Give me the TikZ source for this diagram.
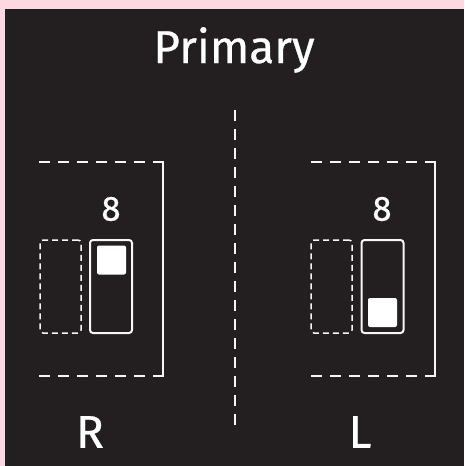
\documentclass[tikz,border=0pt]{standalone}
\usepackage{fontspec}
\setmainfont{Fira Sans}
\newfontfamily\labelfont[FakeBold=0.6]{Fira Sans}
\usetikzlibrary{positioning}
\definecolor{pinkbg}{HTML}{FCD9E2}
\definecolor{panel}{HTML}{231F20}
\definecolor{lite}{HTML}{F6F6F6}

\begin{document}
\begin{tikzpicture}[x=1pt,y=-1pt,
	slot/.style = {draw=lite, line width=1.5pt, dash pattern=on 6pt off 4pt, rounded corners=3pt, minimum width=41pt, minimum height=93pt, inner sep=0pt},
	switchbox/.style = {draw=lite, line width=2pt, rounded corners=3pt, minimum width=42pt, minimum height=93pt, inner sep=0pt},
	knob/.style = {fill=white, rounded corners=2pt, minimum size=29pt, inner sep=0pt},
	guide/.style = {lite, line width=1.5pt, dash pattern=on 11pt off 8pt},
	bracket/.style = {lite, line width=1.6pt},
	big/.style = {text=white, font=\labelfont\fontsize{46}{50}\selectfont},
	digit/.style = {text=white, font=\labelfont\fontsize{35}{40}\selectfont}]
	\fill [pinkbg] (0,0) rectangle (464,466);
	\fill [panel] (5,9) rectangle (464,466);
	\useasboundingbox (0,0) rectangle (464,466);

	\node [big] (title) at (234,50) {Primary};
	\draw [guide] (235,110) -- (235,428);

	% right side
	\draw [guide] (39,162) -- (156,162);
	\draw [guide] (39,376) -- (156,376);
	\draw [bracket] (155,162) -- (163,162) -- (163,376) -- (155,376);
	\node [digit] (numR) at (111,209) {8};
	\node [slot] (slotR) at (60.5,286.5) {};
	\node [switchbox] (swR) at (111,286.5) {};
	\node [knob] (knobR) at (111.5,260) {};
	\node [big] (labR) at (90,432) {R};

	% left side
	\draw [guide] (311,162) -- (428,162);
	\draw [guide] (311,376) -- (428,376);
	\draw [bracket] (427,162) -- (435,162) -- (435,376) -- (427,376);
	\node [digit] (numL) at (382,209) {8};
	\node [slot] (slotL) at (331.5,286.5) {};
	\node [switchbox] (swL) at (382.5,286.5) {};
	\node [knob] (knobL) at (382.5,312.5) {};
	\node [big] (labL) at (360,432) {L};
\end{tikzpicture}
\end{document}
